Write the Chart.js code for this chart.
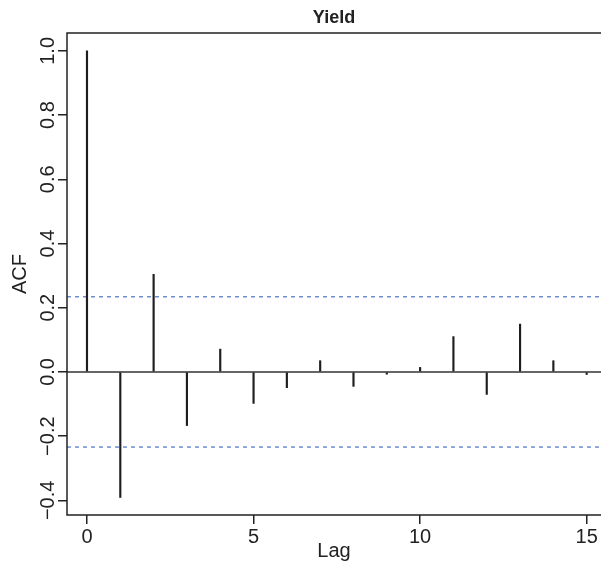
<!DOCTYPE html>
<html>
<head>
<meta charset="utf-8">
<script src="https://cdn.jsdelivr.net/npm/chart.js@4/dist/chart.umd.min.js"></script>
<style>
  html, body { margin: 0; padding: 0; background: #fff; overflow: hidden; }
  #acf { display: block; }
</style>
</head>
<body>
<canvas id="acf" width="601" height="562"></canvas>
<script>
const lags = [0, 1, 2, 3, 4, 5, 6, 7, 8, 9, 10, 11, 12, 13, 14, 15];
const acfValues = [1.0, -0.391, 0.304, -0.167, 0.071, -0.098, -0.049, 0.035,
                   -0.045, -0.007, 0.014, 0.110, -0.070, 0.149, 0.035, -0.008];
const ciBound = 0.234;
const xTicks = [0, 5, 10, 15];
const yTicks = [-0.4, -0.2, 0.0, 0.2, 0.4, 0.6, 0.8, 1.0];

// the plot box runs past the right edge of the picture, so the visible x range stops at 15.43
const xMin = -0.6, xMax = 15.43;
const yMin = -0.4456, yMax = 1.0556;
const font = "'Liberation Sans', Arial, Helvetica, sans-serif";
const ink = "#222";

// left, top and bottom of the plot box (right side is cut off in the original)
const frame = {
  id: "frame",
  afterDraw(chart) {
    const { ctx, chartArea: a } = chart;
    const w = chart.width;
    ctx.save();
    ctx.strokeStyle = ink;
    ctx.lineWidth = 1.5;
    ctx.beginPath();
    ctx.moveTo(w, a.top);
    ctx.lineTo(a.left, a.top);
    ctx.lineTo(a.left, a.bottom);
    ctx.lineTo(w, a.bottom);
    ctx.stroke();
    ctx.restore();
  }
};

const fmt = (v) => {
  const s = Math.abs(v).toFixed(1);
  return v < -1e-9 ? "\u2212" + s : s;
};

new Chart(document.getElementById("acf"), {
  type: "bar",
  data: {
    datasets: [
      {
        type: "bar",
        data: lags.map((l, i) => ({ x: l, y: acfValues[i] })),
        backgroundColor: "#1e1e1e",
        barThickness: 1.5,
        order: 1
      },
      {
        type: "line",
        data: [{ x: xMin, y: 0 }, { x: xMax, y: 0 }],
        borderColor: "#333",
        borderWidth: 1.4,
        pointRadius: 0,
        order: 0
      },
      {
        type: "line",
        data: [{ x: xMin, y: ciBound }, { x: xMax, y: ciBound }],
        borderColor: "#4f70c4",
        borderWidth: 1.2,
        borderDash: [4, 4],
        pointRadius: 0,
        order: 2
      },
      {
        type: "line",
        data: [{ x: xMin, y: -ciBound }, { x: xMax, y: -ciBound }],
        borderColor: "#4f70c4",
        borderWidth: 1.2,
        borderDash: [4, 4],
        pointRadius: 0,
        order: 2
      }
    ]
  },
  options: {
    responsive: false,
    animation: false,
    layout: { padding: 0 },
    plugins: {
      legend: { display: false },
      tooltip: { enabled: false },
      title: {
        display: true,
        fullSize: false,
        text: "Yield",
        color: ink,
        font: { family: font, size: 18, weight: "bold", lineHeight: 1.2 },
        padding: { top: 7, bottom: 4.4 }
      }
    },
    scales: {
      x: {
        type: "linear",
        min: xMin,
        max: xMax,
        offset: false,
        afterFit: (s) => { s.height = 47; s.paddingRight = 0; s.paddingLeft = 0; },
        afterBuildTicks: (s) => { s.ticks = xTicks.map((v) => ({ value: v })); },
        grid: { display: true, offset: false, drawOnChartArea: false, drawTicks: true, tickLength: 9, color: ink, lineWidth: 1.5 },
        border: { display: false },
        ticks: {
          color: ink,
          font: { family: font, size: 20 },
          padding: 1,
          maxRotation: 0,
          autoSkip: false,
          callback: (v) => String(v)
        },
        title: {
          display: true,
          text: "Lag",
          color: ink,
          font: { family: font, size: 20, lineHeight: 1.1 },
          padding: { top: 0, bottom: 0 }
        }
      },
      y: {
        type: "linear",
        min: yMin,
        max: yMax,
        afterFit: (s) => { s.width = 67; },
        afterBuildTicks: (s) => { s.ticks = yTicks.map((v) => ({ value: v })); },
        grid: { display: true, offset: false, drawOnChartArea: false, drawTicks: true, tickLength: 9, color: ink, lineWidth: 1.5 },
        border: { display: false },
        ticks: {
          color: ink,
          font: { family: font, size: 20 },
          minRotation: 90,
          maxRotation: 90,
          crossAlign: "center",
          padding: -10,
          autoSkip: false,
          callback: (v) => fmt(v)
        },
        title: {
          display: true,
          text: "ACF",
          color: ink,
          font: { family: font, size: 20, lineHeight: 1.2 },
          padding: { top: 8.5, bottom: 0 }
        }
      }
    }
  },
  plugins: [frame]
});
</script>
</body>
</html>
